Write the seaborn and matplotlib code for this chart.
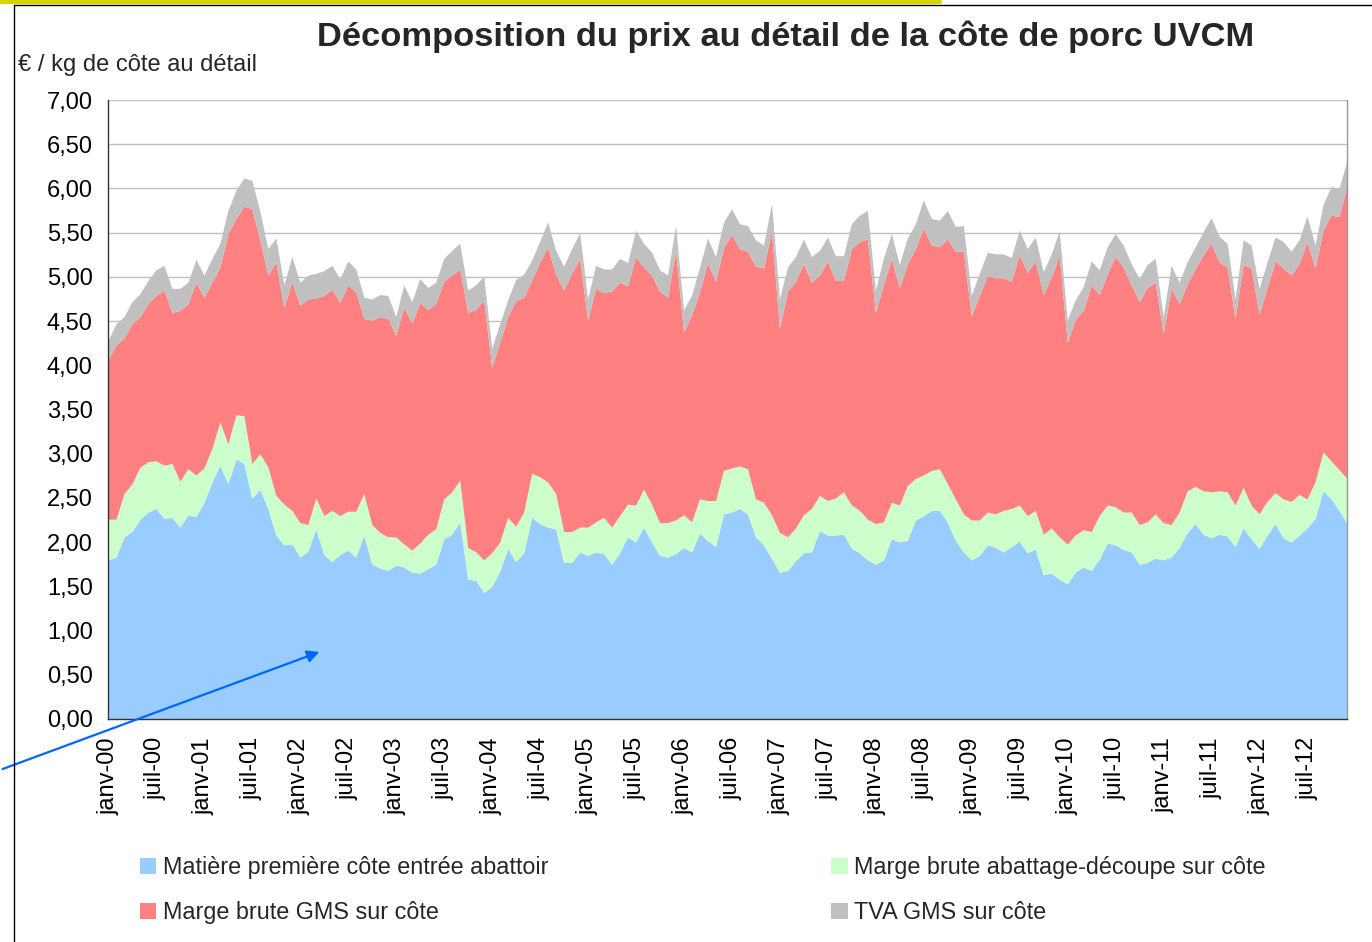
import matplotlib
matplotlib.use("Agg")
import matplotlib.pyplot as plt
import numpy as np
import pandas as pd
import seaborn as sns
from matplotlib.patches import Patch, FancyArrowPatch
from matplotlib.lines import Line2D

sns.set_theme(style="white")
plt.rcParams['font.family'] = ['Liberation Sans', 'DejaVu Sans']

# monthly values, janv-00 .. déc-12 (one row per year)
matiere = [
    1.80, 1.83, 2.06, 2.12, 2.26, 2.34, 2.38, 2.27, 2.28, 2.17, 2.31, 2.29,
    2.45, 2.68, 2.87, 2.66, 2.94, 2.89, 2.49, 2.60, 2.38, 2.08, 1.97, 1.98,
    1.83, 1.90, 2.15, 1.86, 1.78, 1.86, 1.91, 1.83, 2.08, 1.75, 1.71, 1.68,
    1.74, 1.72, 1.66, 1.65, 1.70, 1.75, 2.04, 2.09, 2.23, 1.58, 1.57, 1.43,
    1.50, 1.67, 1.93, 1.78, 1.88, 2.28, 2.21, 2.17, 2.15, 1.77, 1.77, 1.89,
    1.85, 1.89, 1.87, 1.75, 1.88, 2.06, 2.00, 2.17, 2.00, 1.85, 1.83, 1.87,
    1.94, 1.89, 2.10, 2.02, 1.95, 2.32, 2.34, 2.38, 2.32, 2.06, 1.97, 1.82,
    1.66, 1.68, 1.79, 1.88, 1.89, 2.13, 2.08, 2.08, 2.09, 1.93, 1.88, 1.80,
    1.75, 1.80, 2.04, 2.00, 2.02, 2.25, 2.30, 2.36, 2.36, 2.23, 2.02, 1.89,
    1.80, 1.85, 1.97, 1.94, 1.89, 1.95, 2.01, 1.88, 1.92, 1.63, 1.65, 1.58,
    1.53, 1.66, 1.72, 1.68, 1.81, 1.99, 1.97, 1.92, 1.89, 1.75, 1.77, 1.82,
    1.80, 1.83, 1.94, 2.11, 2.21, 2.09, 2.05, 2.09, 2.07, 1.95, 2.16, 2.04,
    1.93, 2.08, 2.21, 2.05, 2.00, 2.08, 2.16, 2.27, 2.58, 2.49, 2.36, 2.21,
]
abattage = [
    0.46, 0.43, 0.49, 0.54, 0.59, 0.57, 0.54, 0.60, 0.61, 0.52, 0.52, 0.47,
    0.39, 0.38, 0.49, 0.45, 0.50, 0.54, 0.40, 0.40, 0.47, 0.45, 0.46, 0.38,
    0.39, 0.30, 0.35, 0.44, 0.58, 0.44, 0.44, 0.52, 0.47, 0.45, 0.40, 0.38,
    0.32, 0.26, 0.25, 0.34, 0.39, 0.40, 0.45, 0.48, 0.47, 0.36, 0.32, 0.37,
    0.38, 0.33, 0.35, 0.40, 0.46, 0.50, 0.53, 0.51, 0.40, 0.35, 0.35, 0.28,
    0.32, 0.34, 0.41, 0.42, 0.42, 0.37, 0.42, 0.43, 0.43, 0.37, 0.39, 0.38,
    0.37, 0.34, 0.39, 0.45, 0.52, 0.49, 0.50, 0.48, 0.51, 0.43, 0.48, 0.49,
    0.45, 0.38, 0.37, 0.43, 0.49, 0.40, 0.39, 0.42, 0.48, 0.49, 0.48, 0.46,
    0.46, 0.43, 0.41, 0.42, 0.62, 0.47, 0.46, 0.45, 0.47, 0.43, 0.47, 0.43,
    0.45, 0.40, 0.37, 0.38, 0.47, 0.43, 0.41, 0.42, 0.44, 0.46, 0.51, 0.48,
    0.45, 0.42, 0.42, 0.44, 0.49, 0.43, 0.43, 0.42, 0.45, 0.45, 0.46, 0.50,
    0.42, 0.37, 0.40, 0.47, 0.42, 0.49, 0.52, 0.49, 0.50, 0.47, 0.46, 0.38,
    0.39, 0.38, 0.35, 0.44, 0.46, 0.46, 0.33, 0.41, 0.44, 0.43, 0.46, 0.51,
]
gms = [
    1.80, 1.97, 1.76, 1.81, 1.70, 1.79, 1.87, 1.98, 1.71, 1.93, 1.87, 2.18,
    1.93, 1.88, 1.75, 2.38, 2.22, 2.37, 2.88, 2.42, 2.17, 2.64, 2.22, 2.59,
    2.46, 2.55, 2.26, 2.49, 2.50, 2.41, 2.56, 2.48, 1.98, 2.31, 2.44, 2.47,
    2.28, 2.68, 2.57, 2.72, 2.54, 2.55, 2.46, 2.45, 2.39, 2.66, 2.74, 2.94,
    2.10, 2.26, 2.27, 2.55, 2.43, 2.18, 2.43, 2.65, 2.48, 2.73, 2.92, 3.04,
    2.34, 2.64, 2.54, 2.67, 2.64, 2.47, 2.81, 2.51, 2.59, 2.62, 2.55, 3.05,
    2.07, 2.34, 2.34, 2.69, 2.48, 2.52, 2.64, 2.46, 2.46, 2.63, 2.65, 3.21,
    2.31, 2.78, 2.79, 2.84, 2.56, 2.49, 2.71, 2.46, 2.39, 2.90, 3.04, 3.17,
    2.39, 2.68, 2.76, 2.46, 2.51, 2.60, 2.79, 2.55, 2.51, 2.77, 2.80, 2.97,
    2.31, 2.54, 2.67, 2.67, 2.63, 2.57, 2.83, 2.75, 2.82, 2.71, 2.84, 3.18,
    2.28, 2.44, 2.48, 2.79, 2.50, 2.61, 2.83, 2.77, 2.57, 2.52, 2.65, 2.62,
    2.14, 2.67, 2.36, 2.34, 2.46, 2.67, 2.81, 2.59, 2.54, 2.11, 2.52, 2.68,
    2.26, 2.42, 2.62, 2.61, 2.56, 2.61, 2.91, 2.42, 2.51, 2.78, 2.86, 3.32,
]
tva = [
    0.22, 0.24, 0.24, 0.25, 0.26, 0.26, 0.29, 0.28, 0.27, 0.25, 0.24, 0.26,
    0.25, 0.27, 0.27, 0.26, 0.32, 0.32, 0.32, 0.32, 0.30, 0.27, 0.26, 0.28,
    0.26, 0.27, 0.28, 0.28, 0.27, 0.27, 0.27, 0.26, 0.24, 0.24, 0.25, 0.26,
    0.21, 0.25, 0.24, 0.27, 0.25, 0.24, 0.26, 0.28, 0.29, 0.25, 0.28, 0.27,
    0.21, 0.21, 0.19, 0.24, 0.26, 0.23, 0.23, 0.29, 0.27, 0.27, 0.28, 0.29,
    0.24, 0.26, 0.27, 0.25, 0.27, 0.26, 0.30, 0.27, 0.26, 0.24, 0.25, 0.28,
    0.25, 0.22, 0.28, 0.28, 0.28, 0.29, 0.29, 0.28, 0.29, 0.30, 0.26, 0.31,
    0.33, 0.27, 0.28, 0.28, 0.29, 0.28, 0.27, 0.28, 0.28, 0.28, 0.30, 0.32,
    0.25, 0.30, 0.28, 0.26, 0.29, 0.28, 0.32, 0.30, 0.30, 0.32, 0.28, 0.29,
    0.23, 0.25, 0.27, 0.27, 0.27, 0.27, 0.28, 0.27, 0.27, 0.26, 0.26, 0.28,
    0.25, 0.22, 0.27, 0.27, 0.28, 0.31, 0.26, 0.25, 0.24, 0.26, 0.26, 0.27,
    0.19, 0.26, 0.24, 0.25, 0.25, 0.26, 0.29, 0.29, 0.27, 0.22, 0.28, 0.26,
    0.29, 0.29, 0.27, 0.30, 0.27, 0.27, 0.29, 0.26, 0.29, 0.32, 0.32, 0.28,
]

series_names = [
    "Matière première côte entrée abattoir",
    "Marge brute abattage-découpe sur côte",
    "Marge brute GMS sur côte",
    "TVA GMS sur côte",
]
colors = ["#99CCFF", "#CCFFCC", "#FF8080", "#C0C0C0"]

# tick labels every 6 months
tick_labels = [f"{m}-{yy:02d}" for yy in range(13) for m in ("janv", "juil")]
ytick_values = [0, 0.5, 1, 1.5, 2, 2.5, 3, 3.5, 4, 4.5, 5, 5.5, 6, 6.5, 7]

df = pd.DataFrame({
    series_names[0]: matiere,
    series_names[1]: abattage,
    series_names[2]: gms,
    series_names[3]: tva,
})
x = np.arange(len(df))

fig = plt.figure(figsize=(13.72, 9.42), dpi=100)
ax = fig.add_axes([108 / 1372, 1 - 719 / 942, (1347 - 108) / 1372, (719 - 100) / 942])

ax.stackplot(x, *[df[c] for c in series_names], colors=colors, linewidth=0)

ax.set_xlim(0, len(df) - 1)
ax.set_ylim(0, 7)
ax.set_yticks(ytick_values)
ax.set_yticklabels([f"{v:.2f}".replace(".", ",") for v in ytick_values])
ax.set_xticks(x[::6])
ax.set_xticklabels(tick_labels, rotation=90)

ax.set_axisbelow(True)
ax.yaxis.grid(True, color="#C0C0C0", linewidth=1)
ax.xaxis.grid(False)
ax.tick_params(axis="both", labelsize=17, colors="black", length=5, width=1,
               direction="out")
ax.tick_params(axis="y", pad=6)
ax.tick_params(axis="x", pad=8)
for s in ["left", "bottom"]:
    ax.spines[s].set_color("#333333")
    ax.spines[s].set_linewidth(1)
ax.spines["top"].set_visible(False)
ax.spines["right"].set_color("#999999")
ax.spines["right"].set_linewidth(1)

fig.text(786 / 1372, 1 - 37 / 942, "Décomposition du prix au détail de la côte de porc UVCM",
         ha="center", va="center", fontsize=24.8, fontweight="bold")
fig.text(18 / 1372, 1 - 65 / 942, "€ / kg de côte au détail",
         ha="left", va="center", fontsize=17)

# legend: columns filled top-down
order = [0, 2, 1, 3]
handles = [Patch(facecolor=colors[i], edgecolor="none", label=series_names[i]) for i in order]
fig.legend(handles=handles, loc="upper left", bbox_to_anchor=(119 / 1372, 1 - 835 / 942),
           ncol=2, frameon=False, fontsize=16.8, handlelength=0.7, handleheight=0.7,
           handletextpad=0.3, columnspacing=12.1, labelspacing=0.95)

# chart frame and highlight strip
fig.add_artist(Line2D([0, 940 / 1372], [1 - 1.5 / 942, 1 - 1.5 / 942], color="#D4D400",
                      linewidth=3, transform=fig.transFigure))
fig.add_artist(Line2D([14 / 1372, 14 / 1372, 1], [0, 1 - 5 / 942, 1 - 5 / 942], color="black",
                      linewidth=1, transform=fig.transFigure))

# blue annotation arrow
fig.add_artist(FancyArrowPatch((0, 1 - 770 / 942), (322 / 1372, 1 - 651 / 942),
                               transform=fig.transFigure, arrowstyle="-|>", mutation_scale=18,
                               color="#0066FF", linewidth=1.6))

fig.savefig("out.png", dpi=100)
